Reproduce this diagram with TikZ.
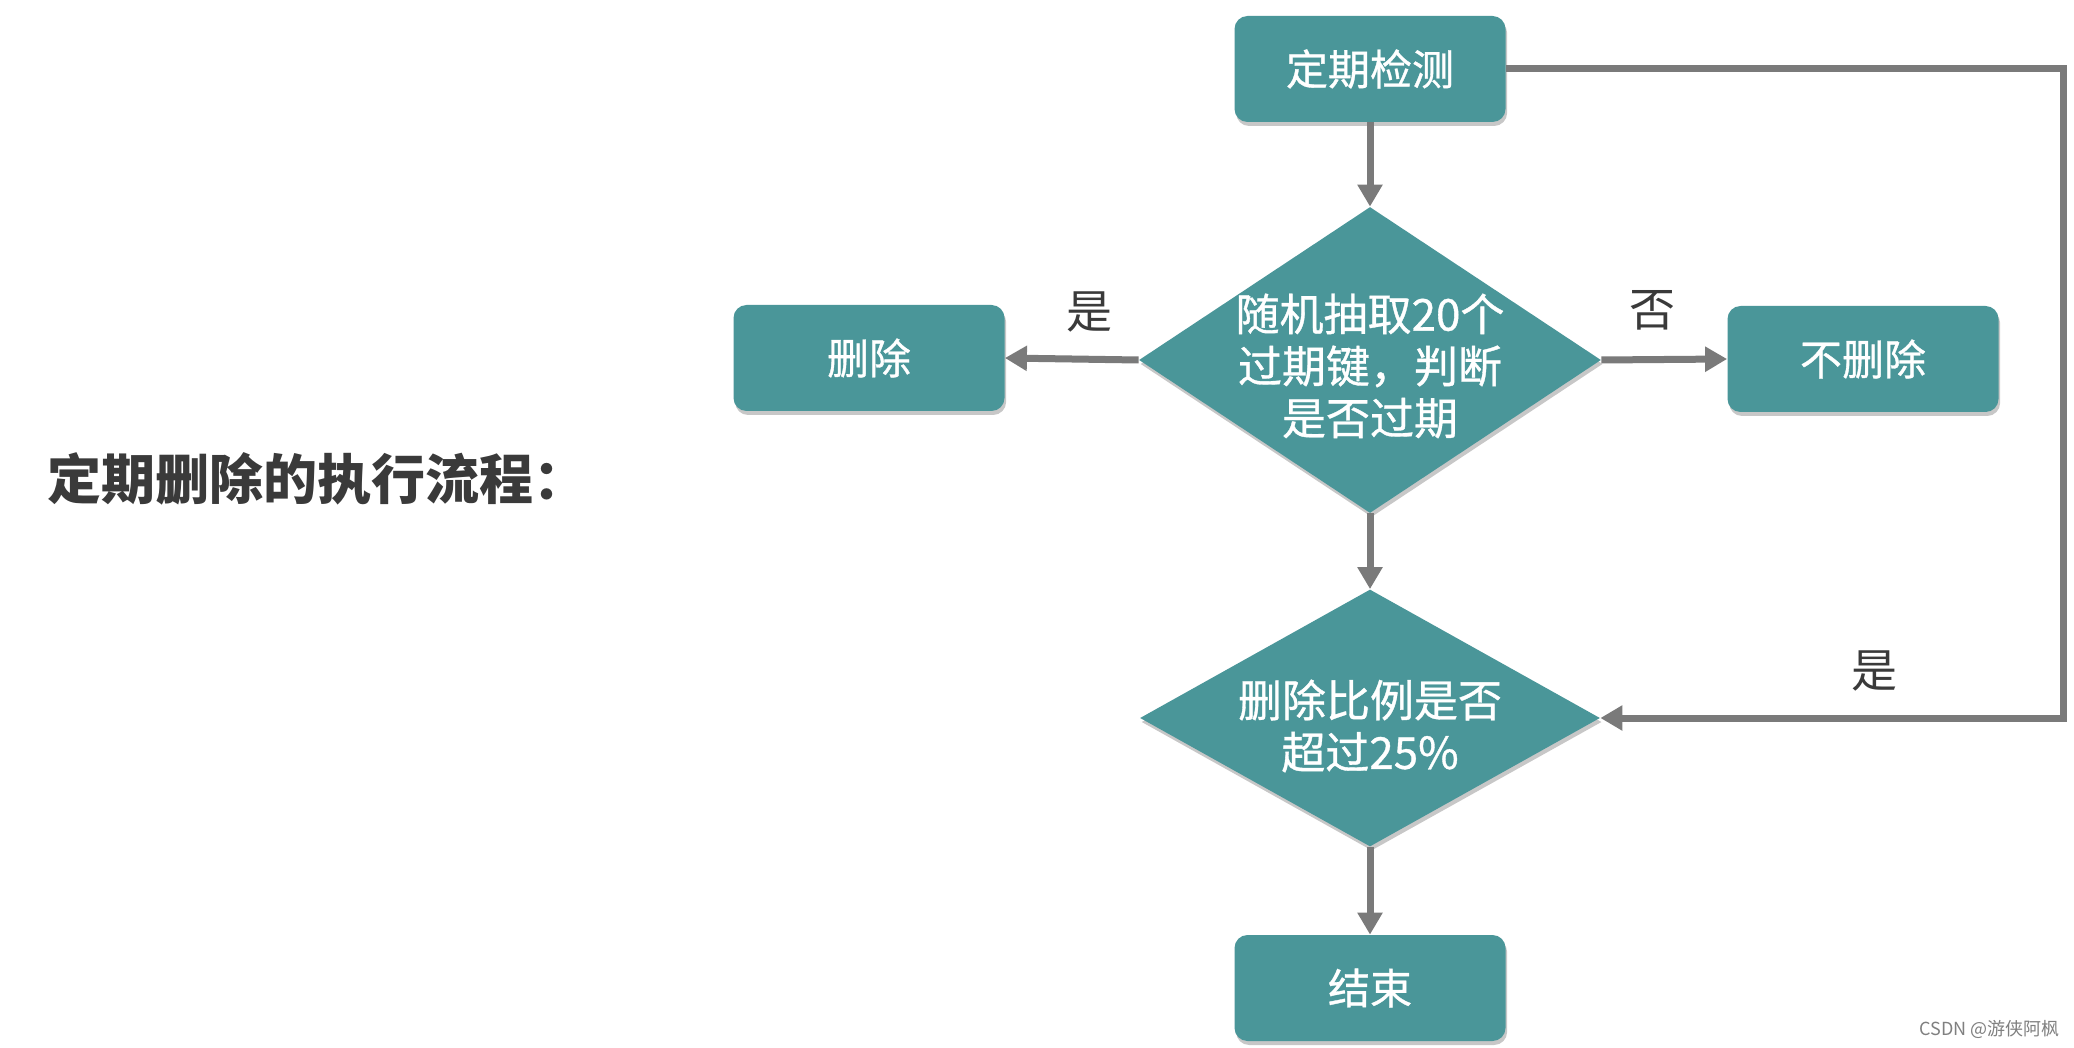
\documentclass[tikz,border=0pt]{standalone}
\usepackage{fontspec}
\newfontfamily\cjk{Noto Sans CJK SC}
\newfontfamily\cjkm{Noto Sans CJK SC}[FakeBold=0.8]
\usetikzlibrary{arrows.meta,shapes.geometric,shadows}
\definecolor{teal1}{HTML}{4A9699}
\definecolor{arrowgray}{HTML}{7A7A7A}
\definecolor{textdark}{HTML}{3A3A3A}
\tikzset{
  box/.style={draw=none, fill=teal1, rounded corners=6.5pt, minimum width=135.5pt, minimum height=53pt,
    inner sep=0pt, text=white, font=\cjkm\fontsize{21}{25}\selectfont,
    drop shadow={shadow xshift=0.8pt, shadow yshift=-2pt, opacity=0.22, fill=black}},
  dia/.style={diamond, draw=none, fill=teal1, inner sep=0pt,
    drop shadow={shadow xshift=0.8pt, shadow yshift=-2pt, opacity=0.22, fill=black}},
  diatext/.style={text=white, align=center, inner sep=0pt, font=\cjkm\fontsize{22}{26}\selectfont},
  conn/.style={draw=arrowgray, line width=3.5pt, -{Triangle[width=12pt,length=11pt]}},
  lab/.style={text=textdark, inner sep=0pt, font=\cjk\fontsize{23}{26}\selectfont},
}
\begin{document}
\begin{tikzpicture}[x=0.5pt,y=-0.5pt]
\useasboundingbox[fill=white] (0,0) rectangle (2074,1048);

\node[text=textdark, anchor=west, inner sep=0pt, font=\cjk\bfseries\fontsize{27}{32}\selectfont] (title) at (47,479) {定期删除的执行流程：};

\node[box] (check) at (1370,69) {定期检测};
\node[dia, minimum width=231pt, minimum height=153pt] (d1) at (1370,360) {};
\node[diatext] (d1t) at (1370,366) {随机抽取20个\\过期键，判断\\是否过期};
\node[box] (del) at (869,358) {删除};
\node[box] (nodel) at (1863,359) {不删除};
\node[dia, minimum width=230pt, minimum height=128.5pt] (d2) at (1370,718) {};
\node[diatext] (d2t) at (1370,726) {删除比例是否\\超过25\%};
\node[box] (end) at (1370,988) {结束};

\coordinate (c1) at (2063,69);
\coordinate (c2) at (2063,718);

\draw[conn] (check.south) -- (d1.north);
\draw[conn] (d1.west) -- (del.east);
\draw[conn] (d1.east) -- (nodel.west);
\draw[conn] (d1.south) -- (d2.north);
\draw[conn] (d2.south) -- (end.north);
\draw[conn] (check.east) -- (c1) -- (c2) -- (d2.east);

\node[lab] (yes1) at (1089,312) {是};
\node[lab] (no1) at (1652,310) {否};
\node[lab] (yes2) at (1874,671) {是};

\node[text=gray, anchor=east, inner sep=0pt, font=\cjk\fontsize{9}{11}\selectfont] (wm) at (2060,1029) {CSDN @游侠阿枫};
\end{tikzpicture}
\end{document}
